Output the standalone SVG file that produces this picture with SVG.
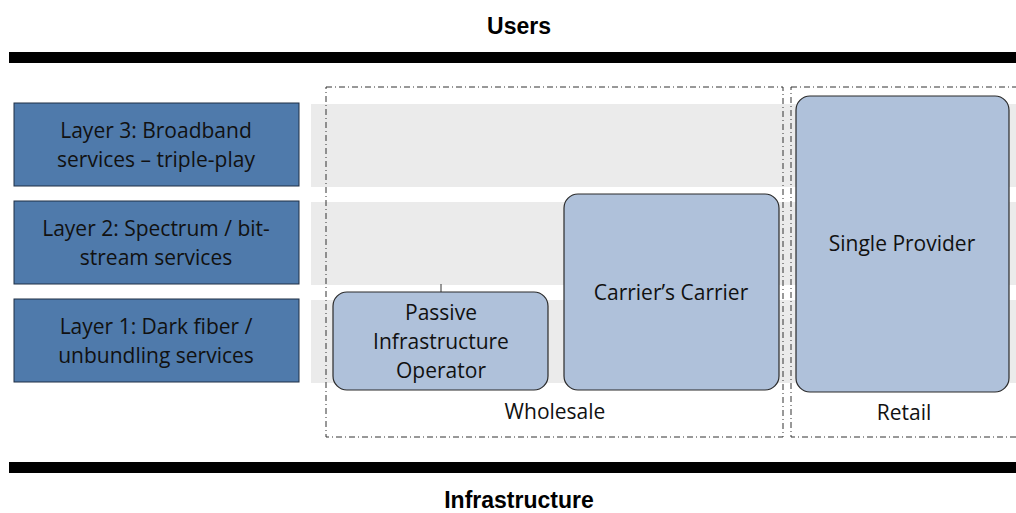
<svg xmlns="http://www.w3.org/2000/svg" width="1016" height="513" viewBox="0 0 1016 513">
<style>
.bar{fill:#000}
.band{fill:#ebebeb}
.layer{fill:#4f7aab;stroke:#1f2f45;stroke-width:1}
.node{fill:#afc1da;stroke:#2a2a2a;stroke-width:1.2}
.grp{fill:none;stroke:#333;stroke-width:1;stroke-dasharray:6 3 1 3}
.t{font-family:"Open Sans",Lato,sans-serif;font-size:21px;fill:#111;text-anchor:middle}
.h{font-family:"Liberation Sans",Arial,sans-serif;font-size:23px;font-weight:bold;fill:#000;text-anchor:middle}
</style>
<rect width="1016" height="513" fill="#fff"/>
<text class="h" x="519" y="34">Users</text>
<rect class="bar" x="9" y="52" width="1007" height="11"/>
<rect class="bar" x="9" y="462" width="1007" height="11"/>
<text class="h" x="519" y="508">Infrastructure</text>
<g id="bands">
<rect class="band" x="311" y="104" width="705" height="83"/>
<rect class="band" x="311" y="202" width="705" height="83"/>
<rect class="band" x="311" y="300" width="705" height="83"/>
</g>
<g id="layer3"><rect class="layer" x="14" y="103" width="285" height="83"/><text class="t" x="156" y="138">Layer 3: Broadband</text><text class="t" x="156" y="167">services – triple-play</text></g>
<g id="layer2"><rect class="layer" x="14" y="201" width="285" height="83"/><text class="t" x="156" y="236">Layer 2: Spectrum / bit-</text><text class="t" x="156" y="265">stream services</text></g>
<g id="layer1"><rect class="layer" x="14" y="299" width="285" height="83"/><text class="t" x="156" y="334">Layer 1: Dark fiber /</text><text class="t" x="156" y="363">unbundling services</text></g>
<g id="wholesale"><rect class="grp" x="326" y="87" width="457" height="350"/><text class="t" x="555" y="419">Wholesale</text></g>
<g id="retail"><rect class="grp" x="791" y="87" width="230" height="350"/><text class="t" x="904" y="420">Retail</text></g>
<g id="connectors"><line x1="441" y1="284" x2="441" y2="292" stroke="#333" stroke-width="1"/></g>
<g id="passive"><rect class="node" x="333" y="292" width="215" height="98" rx="14"/><text class="t" x="441" y="320">Passive</text><text class="t" x="441" y="349">Infrastructure</text><text class="t" x="441" y="378">Operator</text></g>
<g id="carrier"><rect class="node" x="564" y="194" width="215" height="196" rx="14"/><text class="t" x="671" y="300">Carrier’s Carrier</text></g>
<g id="single"><rect class="node" x="796" y="96" width="213" height="296" rx="14"/><text class="t" x="902" y="251">Single Provider</text></g>
</svg>
